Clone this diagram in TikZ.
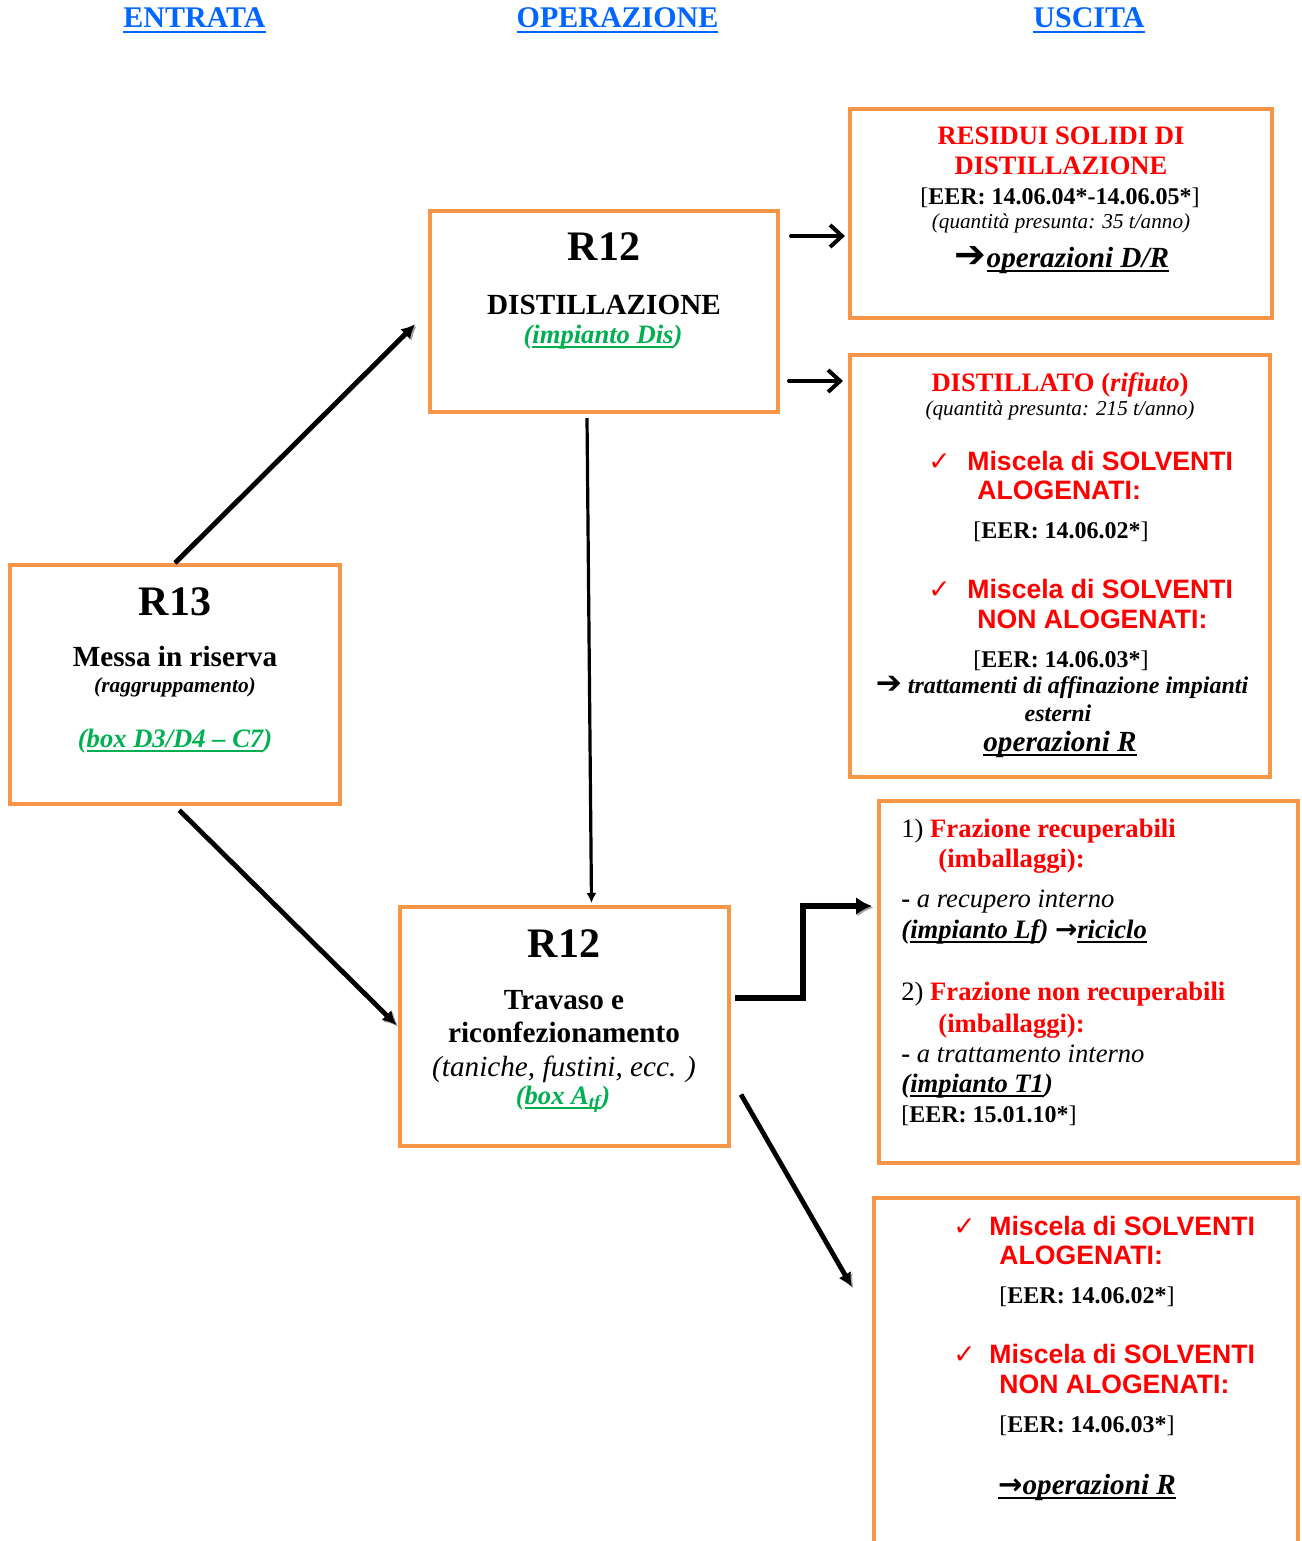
\documentclass[tikz,border=0pt]{standalone}
\usepackage{fontspec}
\setmainfont{Liberation Serif}
\setsansfont{Liberation Sans}
\newfontfamily\dejavu{DejaVu Sans}
\usetikzlibrary{calc,positioning,arrows.meta}

\definecolor{boxorange}{HTML}{F79646}
\definecolor{wastered}{HTML}{FF0000}
\definecolor{plantgreen}{HTML}{00B050}
\definecolor{headblue}{HTML}{0066FF}

\newsavebox{\ulbox}
\newcommand{\uln}[1]{\sbox{\ulbox}{#1}\rlap{\vrule height -1.3pt depth 2.3pt width \wd\ulbox}\usebox{\ulbox}}
\newcommand{\fsz}[1]{\fontsize{#1pt}{#1pt}\selectfont}
\newcommand{\chk}{{\dejavu ✓}}
\newcommand{\harr}{{\dejavu\bfseries\scalebox{1.3}{➔}}}
\newcommand{\rarr}{{\dejavu\bfseries →}}
\newcommand{\hdr}[1]{{\fsz{15}\bfseries\color{headblue}\uln{#1}}}
\newcommand{\solv}[1]{{\sffamily\bfseries\fsz{13.3}\color{wastered}#1}}
\newcommand{\eer}[1]{{\fsz{12}[\textbf{EER: #1}]}}

\begin{document}
\begin{tikzpicture}[x=0.5pt, y=-0.5pt]

\tikzset{
  box/.style={draw=boxorange, line width=2pt, inner sep=0pt},
  lbl/.style={inner sep=0pt, anchor=base},
  lbll/.style={inner sep=0pt, anchor=base west},
  shadowed/.style={preaction={draw=black!35, transform canvas={shift={(0.8pt,-0.8pt)}}}},
  flow/.style={shadowed, line width=2.4pt, -{Latex[length=7pt,width=7pt]}},
  thinflow/.style={line width=1.6pt, -{Latex[length=5pt,width=5pt]}},
  outarr/.style={line width=2pt, line cap=round, -{Straight Barb[length=6pt,width=11pt]}},
  elbow/.style={shadowed, line width=3pt, -{Latex[length=8pt,width=9pt]}},
}

\useasboundingbox (0,0) rectangle (1301,1541);

% column headers
\node (hentr) [lbl] at (194.5,28) {\hdr{ENTRATA}};
\node (hoper) [lbl] at (617.5,28) {\hdr{OPERAZIONE}};
\node (husc) [lbl] at (1089,28) {\hdr{USCITA}};

% boxes
\node (r13)  [box, minimum width=165pt, minimum height=119.5pt] at (175,684.5) {};
\node (dist) [box, minimum width=174pt, minimum height=100.5pt] at (604,311.5) {};
\node (trav) [box, minimum width=164.5pt, minimum height=119.5pt] at (564.5,1026.5) {};
\node (res)  [box, minimum width=211pt, minimum height=104.5pt] at (1061,213.5) {};
\node (distl)[box, minimum width=210pt, minimum height=211pt] at (1060,566) {};
\node (fraz) [box, minimum width=209.5pt, minimum height=181pt] at (1088.5,982) {};
\node (solv) [inner sep=0pt, minimum width=212pt, minimum height=171.5pt] at (1086,1369.5) {};
\draw[boxorange, line width=2pt] (solv.south west) |- (solv.north east) -- (solv.south east);

% R13
\node (r13a) [lbl] at (175,615) {\fsz{21}\bfseries R13};
\node (r13b) [lbl] at (175,666) {\fsz{14.6}\bfseries Messa in riserva};
\node (r13c) [lbl] at (175,692) {\fsz{10.7}\bfseries\itshape (raggruppamento)};
\node (r13d) [lbl] at (175,747) {\fsz{13.3}\bfseries\itshape\color{plantgreen}(\uln{box D3/D4 – C7})};

% R12 distillazione
\node (dista) [lbl] at (604,260) {\fsz{21}\bfseries R12};
\node (distb) [lbl] at (604,314) {\fsz{14.6}\bfseries DISTILLAZIONE};
\node (distc) [lbl] at (603,343) {\fsz{13.3}\bfseries\itshape\color{plantgreen}(\uln{impianto Dis})};

% R12 travaso
\node (trava) [lbl] at (564,957) {\fsz{21}\bfseries R12};
\node (travb) [lbl] at (564,1009) {\fsz{14.6}\bfseries Travaso e};
\node (travc) [lbl] at (564,1042) {\fsz{14.6}\bfseries riconfezionamento};
\node (travd) [lbl] at (564,1076) {\fsz{14.6}\itshape (taniche, fustini, ecc. )};
\node (trave) [lbl] at (563,1104) {\fsz{13.3}\bfseries\itshape\color{plantgreen}(\uln{box A\textsubscript{tf}})};

% residui solidi
\node (resa) [lbl] at (1061,145) {\fsz{13.3}\bfseries\color{wastered}RESIDUI SOLIDI DI};
\node (resb) [lbl] at (1061,174) {\fsz{13.3}\bfseries\color{wastered}DISTILLAZIONE};
\node (resc) [lbl] at (1060,204) {\eer{14.06.04*-14.06.05*}};
\node (resd) [lbl] at (1061,228) {\fsz{10.6}\itshape (quantità presunta: 35 t/anno)};
\node (rese) [lbl] at (1062,267) {\fsz{14.6}\bfseries\itshape\harr\uln{operazioni D/R}};

% distillato
\node (dla) [lbl] at (1060,391) {\fsz{13.3}\bfseries\color{wastered}DISTILLATO (\textit{rifiuto})};
\node (dlb) [lbl] at (1060,415) {\fsz{10.6}\itshape (quantità presunta: 215 t/anno)};
\node (dlc1) [lbll] at (928,470) {\fsz{13.3}\color{wastered}\chk};
\node (dlc2) [lbll] at (967,470) {\solv{Miscela di SOLVENTI}};
\node (dlc3) [lbll] at (977,499) {\solv{ALOGENATI:}};
\node (dlc4) [lbll] at (973,538) {\eer{14.06.02*}};
\node (dld1) [lbll] at (928,598) {\fsz{13.3}\color{wastered}\chk};
\node (dld2) [lbll] at (967,598) {\solv{Miscela di SOLVENTI}};
\node (dld3) [lbll] at (977,628) {\solv{NON ALOGENATI:}};
\node (dld4) [lbll] at (973,667) {\eer{14.06.03*}};
\node (dle) [lbl] at (1062,693) {\fsz{12}\bfseries\itshape\harr\ trattamenti di affinazione impianti};
\node (dlf) [lbl] at (1058,721) {\fsz{12}\bfseries\itshape esterni};
\node (dlg) [lbl] at (1060,751) {\fsz{14.6}\bfseries\itshape\uln{operazioni R}};

% frazioni imballaggi
\node (fra1) [lbll] at (901,837) {\fsz{13.3}1) \textbf{\color{wastered}Frazione recuperabili}};
\node (fra2) [lbll] at (938,867) {\fsz{13.3}\bfseries\color{wastered}(imballaggi):};
\node (fra3) [lbll] at (901,907) {\fsz{13.3}\textbf{-} \textit{a recupero interno}};
\node (fra4) [lbll] at (901,938) {\fsz{13.3}\bfseries\itshape(\uln{impianto Lf}) \rarr\uln{riciclo}};
\node (frb1) [lbll] at (901,1000) {\fsz{13.3}2) \textbf{\color{wastered}Frazione non recuperabili}};
\node (frb2) [lbll] at (938,1032) {\fsz{13.3}\bfseries\color{wastered}(imballaggi):};
\node (frb3) [lbll] at (901,1062) {\fsz{13.3}\textbf{-} \textit{a trattamento interno}};
\node (frb4) [lbll] at (901,1092) {\fsz{13.3}\bfseries\itshape(\uln{impianto T1})};
\node (frb5) [lbll] at (901,1122) {\eer{15.01.10*}};

% solventi da travaso
\node (sva1) [lbll] at (953,1235) {\fsz{13.3}\color{wastered}\chk};
\node (sva2) [lbll] at (989,1235) {\solv{Miscela di SOLVENTI}};
\node (sva3) [lbll] at (999,1264) {\solv{ALOGENATI:}};
\node (sva4) [lbll] at (999,1303) {\eer{14.06.02*}};
\node (svb1) [lbll] at (953,1363) {\fsz{13.3}\color{wastered}\chk};
\node (svb2) [lbll] at (989,1363) {\solv{Miscela di SOLVENTI}};
\node (svb3) [lbll] at (999,1393) {\solv{NON ALOGENATI:}};
\node (svb4) [lbll] at (999,1432) {\eer{14.06.03*}};
\node (svc) [lbl] at (1087,1494) {\fsz{14.6}\bfseries\itshape\uln{\rarr operazioni R}};

% connectors
\coordinate (a1) at (845,236);
\coordinate (a2) at (843,381);
\coordinate (k1) at (803,998);
\coordinate (k2) at (872,906);
\coordinate (m2) at (852,1287);

\draw[flow, shorten >=9pt] (r13.north) -- (dist.west);
\draw[flow, shorten <=3pt, shorten >=1pt] (r13.south) -- (trav.west);
\draw[thinflow] ($(dist.south)+(-17,4)$) -- ($(trav.north)+(27,-2)$);
\draw[outarr, shorten <=5.5pt] (dist.east |- a1) -- (a1);
\draw[outarr, shorten <=4.5pt] (dist.east |- a2) -- (a2);
\draw[elbow, shorten <=2pt] (trav.east |- k1) -- (k1) |- (k2);
\draw[flow] ([shift={(10,68)}]trav.east) -- (m2);

\end{tikzpicture}
\end{document}
